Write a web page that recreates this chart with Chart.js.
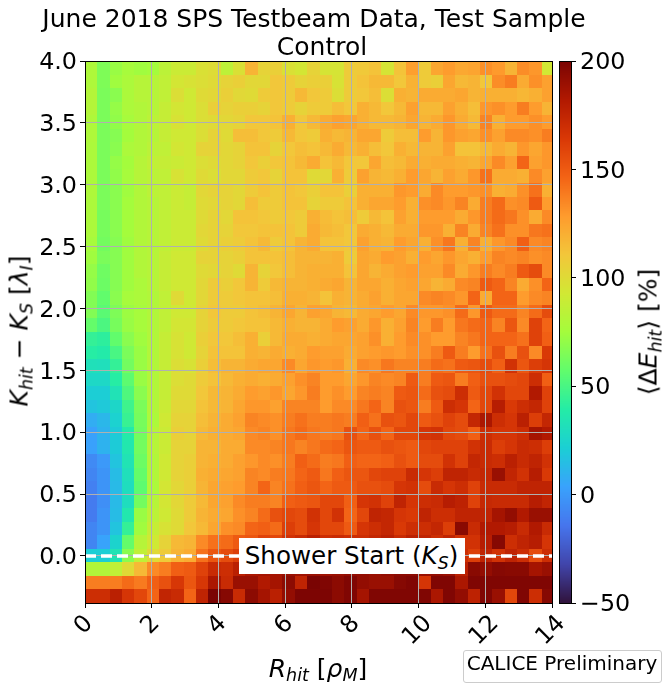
<!DOCTYPE html>
<html>
<head>
<meta charset="utf-8">
<title>June 2018 SPS Testbeam Data</title>
<script src="https://cdn.jsdelivr.net/npm/chart.js@4"></script>
<style>
  html, body { margin: 0; padding: 0; background: #fff; }
  #page { position: relative; width: 668px; height: 689px; overflow: hidden; font-family: "DejaVu Sans", sans-serif; color: #000; }
  canvas { position: absolute; top: 0; }
  .txt { position: absolute; white-space: nowrap; transform: translate(-50%, -50%); line-height: 1; }
  .rot { transform: translate(-50%, -50%) rotate(-90deg); }
  .axis-label { font-size: 25px; }
  .txt sub { font-size: 70%; line-height: 0; vertical-align: -0.28em; }
  #shower-box { position: absolute; left: 239px; top: 538px; width: 226px; height: 36px; background: #fff; }
  #calice-box { position: absolute; left: 463px; top: 650px; width: 197px; height: 31px; background: #fff; border: 1px solid #ccc; border-radius: 3px; }
</style>
</head>
<body>
<div id="page">
  <canvas id="heatmap" width="668" height="689" style="left:0"></canvas>
  <canvas id="colorbar" width="116" height="689" style="left:552px"></canvas>
  <div class="txt" style="left:314px;top:18px;font-size:25px">June 2018 SPS Testbeam Data, Test Sample</div>
  <div class="txt" style="left:322px;top:46px;font-size:25px">Control</div>
  <div id="shower-box"></div>
  <div class="txt" style="left:351.5px;top:556px;font-size:24.6px">Shower Start (<i>K<sub>S</sub></i>)</div>
  <div class="txt axis-label" style="left:318px;top:668px"><i>R<sub>hit</sub></i> [<i>ρ<sub>M</sub></i>]</div>
  <div class="txt axis-label rot" style="left:19px;top:331px"><i>K<sub>hit</sub></i> − <i>K<sub>S</sub></i> [<i>λ<sub>I</sub></i>]</div>
  <div class="txt axis-label rot" style="left:648px;top:332px">⟨Δ<i>E<sub>hit</sub></i>⟩ [%]</div>
  <div id="calice-box"></div>
  <div class="txt" style="left:562px;top:663px;font-size:20px">CALICE Preliminary</div>
</div>
<script>
// ===== DATA =====
const xTicks = [0, 2, 4, 6, 8, 10, 12, 14];
const yTicks = [0, 0.5, 1, 1.5, 2, 2.5, 3, 3.5, 4];
const cbarTicks = [-50, 0, 50, 100, 150, 200];
const xRange = [0, 14];
const yRange = [-0.38, 4];
const cbarRange = [-50, 200];
const xBinWidth = 0.37;
const yBinHeight = 0.1095;
const showerStartX = [0, 14];
const showerStartY = [0, 0];

// mean delta E [%] per cell, left to right, top row first
const row00 = [79,65,72,76,74,75,84,90,90,97,99,85,97,118,104,106,97,94,104, 95,95,108,109,112,95,112,127,108,124,128,123,125,132,129,118,133,130,93];
const row01 = [79,65,74,78,82,82,86,94,96,98,100,104,106,102,102,110,108,104,106, 106,96,108,112,116,116,110,119,108,106,124,116,118,110,133,138,122,132,126];
const row02 = [81,64,68,78,82,82,86,98,92,100,102,106,101,100,108,110,108,116,110, 108,98,108,110,114,98,120,118,122,122,122,124,118,120,120,120,117,120,126];
const row03 = [81,64,71,78,80,82,88,94,92,98,106,104,106,106,104,110,108,104,108, 108,114,110,120,116,110,116,126,116,116,126,120,114,130,132,128,138,128,118];
const row04 = [79,64,70,76,80,84,88,96,92,98,100,102,104,110,110,112,120,110,116, 122,126,124,120,116,116,118,124,118,122,130,122,116,136,120,128,128,132,128];
const row05 = [79,64,67,75,80,82,88,92,92,98,104,100,114,114,110,108,116,110,108, 120,116,118,124,124,108,114,114,128,118,130,126,124,132,126,134,134,132,138];
const row06 = [78,64,68,78,80,84,86,94,92,104,104,102,104,112,112,104,110,114,112, 116,122,116,120,114,110,120,116,118,118,126,112,112,116,122,118,130,124,130];
const row07 = [78,64,71,75,82,86,88,90,92,98,100,102,104,110,106,110,112,116,122, 112,116,110,110,124,114,116,122,120,122,122,120,118,124,134,126,146,126,130];
const row08 = [78,64,70,76,82,84,86,96,92,100,98,102,102,108,110,104,112,112,100, 102,120,108,126,118,116,120,128,124,118,126,122,130,142,122,122,120,134,126];
const row09 = [79,64,68,74,80,84,86,90,88,102,104,104,102,108,112,108,112,110,106, 112,112,106,120,120,120,130,128,122,134,128,128,130,132,120,122,132,142,120];
const row10 = [78,64,68,75,80,82,86,90,88,100,102,104,102,114,108,108,112,112,104, 108,108,112,120,124,124,128,120,132,134,130,136,122,138,144,132,134,150,128];
const row11 = [78,63,68,75,80,82,86,90,90,100,104,102,112,112,110,108,110,108,120, 115,112,114,108,116,112,126,120,128,128,128,122,130,138,144,140,132,122,134];
const row12 = [78,63,68,75,80,82,86,90,90,102,104,104,110,110,112,112,112,108,122, 116,114,110,122,120,116,122,122,130,130,120,136,122,136,142,132,132,140,142];
const row13 = [76,62,67,74,80,82,86,90,90,100,104,106,108,112,116,108,112,118,122, 112,112,110,126,120,118,128,124,120,132,140,120,136,120,130,134,148,134,136];
const row14 = [74,64,67,74,80,82,88,92,92,104,104,104,106,112,112,112,114,118,118, 118,120,108,124,122,128,126,120,128,124,130,124,120,128,136,134,136,132,134];
const row15 = [71,61,67,74,80,82,88,92,92,100,102,104,100,118,104,110,114,118,120, 120,120,112,124,118,122,126,128,126,126,134,122,130,138,134,138,150,156,134];
const row16 = [70,60,67,74,78,82,88,92,92,102,108,106,110,118,108,116,118,118,120, 122,124,118,124,124,120,124,126,124,118,122,134,136,150,146,136,122,132,146];
const row17 = [66,57,68,76,78,80,86,100,92,102,108,108,110,112,112,114,120,120,118, 112,120,118,122,126,120,124,124,134,136,134,130,146,122,146,146,128,134,136];
const row18 = [66,55,65,73,76,80,86,92,92,104,110,108,108,112,114,118,124,118,126, 124,118,116,122,124,128,124,134,130,130,132,144,130,150,144,144,136,144,156];
const row19 = [58,51,63,72,76,80,86,94,94,104,108,108,110,112,112,116,120,118,118, 122,128,126,122,130,120,126,136,128,138,128,140,144,146,136,152,134,160,146];
const row20 = [44,42,57,68,74,80,88,96,92,106,110,110,114,120,106,116,122,122,120, 122,124,124,126,132,120,128,134,132,128,128,136,140,146,146,146,142,160,148];
const row21 = [40,38,50,64,72,80,88,96,92,104,112,112,112,120,118,122,120,122,128, 126,126,122,126,128,130,128,132,132,138,150,138,128,142,154,138,154,134,164];
const row22 = [32,31,44,62,72,80,88,98,96,106,114,118,118,122,124,124,134,124,130, 128,130,120,134,132,140,136,136,138,144,142,150,152,156,148,168,152,162,166];
const row23 = [27,27,40,56,72,80,88,98,100,108,112,116,120,122,120,122,126,132,136, 128,128,124,130,136,134,136,150,138,150,152,138,148,154,154,156,158,170,148];
const row24 = [21,21,33,52,68,80,88,100,100,110,116,118,122,128,126,130,124,130,138, 128,132,128,136,138,136,150,152,144,154,156,170,150,158,168,158,158,182,160];
const row25 = [17,19,26,47,64,80,90,102,102,112,116,118,124,130,130,126,136,136,136, 128,134,134,140,146,136,154,152,138,150,170,166,146,158,180,164,170,174,160];
const row26 = [8,12,23,45,63,78,92,104,104,114,118,122,126,136,134,132,138,142,138, 138,140,138,148,142,154,152,158,150,154,160,156,174,184,170,166,178,162,174];
const row27 = [3,10,20,38,62,82,90,106,104,116,120,122,124,134,136,132,140,144,140, 138,140,154,146,154,146,158,158,166,168,158,156,148,170,166,166,170,186,182];
const row28 = [3,10,20,36,62,82,90,104,104,118,118,122,122,134,134,136,140,136,140, 144,146,152,150,150,154,152,150,158,160,160,160,168,172,162,166,172,170,162];
const row29 = [-6,0,17,34,60,80,92,104,106,118,120,122,126,130,134,132,138,148,144, 138,140,148,146,146,148,154,150,156,156,168,160,174,172,170,178,172,176,168];
const row30 = [-8,-2,14,31,58,80,92,104,106,120,122,124,126,136,134,138,140,146,150, 140,148,152,152,158,160,160,172,166,162,176,176,172,174,190,175,168,180,164];
const row31 = [-10,-2,13,30,56,78,94,102,106,118,124,126,128,136,146,136,142,148,152, 146,150,150,154,154,156,166,168,156,172,166,170,160,172,172,172,176,176,176];
const row32 = [-12,-4,13,30,62,82,94,102,108,116,124,126,134,138,138,136,148,150,152, 158,158,148,166,168,160,176,166,170,172,180,177,160,173,172,172,172,180,175];
const row33 = [-12,-2,14,36,72,84,92,100,108,118,122,124,132,136,144,154,158,156,168, 158,168,146,158,176,174,166,164,176,170,170,176,176,176,186,192,182,190,190];
const row34 = [-8,-2,17,44,74,88,96,100,110,116,124,132,134,146,148,144,162,156,166, 158,158,150,166,170,174,164,170,170,174,162,195,172,182,182,180,172,182,172];
const row35 = [-8,4,24,58,82,92,104,116,118,134,142,144,150,152,160,158,168,172,178, 170,172,170,170,174,178,172,178,176,170,176,168,168,180,196,170,176,180,166];
const row36 = [21,21,34,68,86,100,108,118,122,142,152,156,162,168,172,170,176,178,182, 176,180,178,182,186,184,186,188,186,184,186,170,162,176,168,176,170,156,170];
const row37 = [80,80,86,100,116,134,138,148,150,160,172,170,178,184,186,186,190,188,190, 188,190,192,192,190,192,194,194,190,192,190,178,195,192,196,195,195,186,190];
const row38 = [138,138,138,144,139,148,154,165,152,165,184,172,190,190,182,186,194,176,200, 198,194,198,192,190,190,196,198,166,198,198,184,198,198,198,198,198,198,198];
const row39 = [170,170,178,166,158,146,175,172,146,176,200,196,172,194,186,178,192,199,199, 199,194,198,186,198,198,198,198,198,184,198,192,177,198,190,158,198,170,196];

const cellRows = [
  row00, row01, row02, row03, row04, row05, row06, row07, row08, row09,
  row10, row11, row12, row13, row14, row15, row16, row17, row18, row19,
  row20, row21, row22, row23, row24, row25, row26, row27, row28, row29,
  row30, row31, row32, row33, row34, row35, row36, row37, row38, row39
];

const FONT = '"DejaVu Sans", sans-serif';
const TICK_FONT = { family: FONT, size: 23.8 };

// turbo colormap samples, evenly spaced over the colorbar range
const TURBO = [
  [48,18,59], [65,69,171], [70,117,237], [57,162,252], [27,207,212],
  [36,236,166], [97,252,108], [164,252,60], [209,232,52], [243,198,58],
  [254,155,45], [243,99,21], [217,56,6], [177,25,1], [122,4,3]
];
function turbo(t) {
  const p = Math.min(1, Math.max(0, t)) * (TURBO.length - 1);
  const i = Math.min(TURBO.length - 2, Math.floor(p));
  const f = p - i;
  const c = TURBO[i].map((a, k) => Math.round(a + (TURBO[i + 1][k] - a) * f));
  return `rgb(${c[0]},${c[1]},${c[2]})`;
}
const valueColor = v => turbo((v - cbarRange[0]) / (cbarRange[1] - cbarRange[0]));

// cells, grid goes on top of them
const heatmapPlugin = {
  id: 'heatmapCells',
  beforeDraw(chart) {
    const { ctx, chartArea: a, scales: { x, y } } = chart;
    ctx.save();
    ctx.beginPath();
    ctx.rect(a.left, a.top, a.right - a.left, a.bottom - a.top);
    ctx.clip();
    cellRows.forEach((row, r) => {
      const top = Math.round(y.getPixelForValue(yRange[1] - r * yBinHeight));
      const bottom = Math.round(y.getPixelForValue(yRange[1] - (r + 1) * yBinHeight));
      row.forEach((v, c) => {
        const left = Math.round(x.getPixelForValue(c * xBinWidth));
        const right = Math.round(x.getPixelForValue((c + 1) * xBinWidth));
        ctx.fillStyle = valueColor(v);
        ctx.fillRect(left, top, right - left, bottom - top);
      });
    });
    ctx.restore();
  },
  afterDraw(chart) {
    const { ctx, chartArea: a, scales: { x } } = chart;
    ctx.save();
    ctx.strokeStyle = '#000';
    ctx.lineWidth = 1;
    ctx.strokeRect(Math.round(a.left) + 0.5, Math.round(a.top) + 0.5, Math.round(a.right - a.left), Math.round(a.bottom - a.top));
    // matplotlib style rotated x labels, centred under the tick
    ctx.fillStyle = '#000';
    ctx.font = `23.8px ${FONT}`;
    ctx.textAlign = 'center';
    ctx.textBaseline = 'middle';
    x.ticks.forEach(t => {
      const label = String(t.value);
      const w = ctx.measureText(label).width;
      const cy = 613.5 + (w + 18) * 0.707 / 2;
      ctx.save();
      ctx.translate(x.getPixelForValue(t.value) - 1, cy);
      ctx.rotate(-Math.PI / 4);
      ctx.fillText(label, 0, 0);
      ctx.restore();
    });
    ctx.restore();
  }
};

const colorbarPlugin = {
  id: 'colorbarFill',
  beforeDraw(chart) {
    const { ctx, chartArea: a, scales: { y } } = chart;
    const left = Math.round(a.left), width = Math.round(a.right - a.left);
    ctx.save();
    for (let p = Math.round(a.top); p < Math.round(a.bottom); p++) {
      ctx.fillStyle = valueColor(y.getValueForPixel(p + 0.5));
      ctx.fillRect(left, p, width, 1);
    }
    ctx.strokeStyle = '#000';
    ctx.lineWidth = 1;
    ctx.strokeRect(left + 0.5, Math.round(a.top) + 0.5, width, Math.round(a.bottom - a.top));
    ctx.restore();
  }
};

new Chart(document.getElementById('heatmap'), {
  type: 'scatter',
  data: {
    datasets: [{
      type: 'line',
      data: showerStartX.map((x, i) => ({ x, y: showerStartY[i] })),
      borderColor: '#fff',
      borderWidth: 3.5,
      borderDash: [11, 5],
      pointRadius: 0,
      fill: false,
      clip: false
    }]
  },
  options: {
    responsive: false,
    animation: false,
    events: [],
    layout: { padding: { top: 61, right: 116, left: 0, bottom: 0 } },
    plugins: { legend: { display: false }, tooltip: { enabled: false } },
    scales: {
      x: {
        type: 'linear',
        min: xRange[0], max: xRange[1],
        afterBuildTicks(s) { s.ticks = xTicks.map(value => ({ value })); },
        afterFit(s) { s.height = 86; },
        ticks: { display: false },
        grid: { color: '#b0b0b0', lineWidth: 1, tickColor: '#000', tickLength: 5 },
        border: { color: '#000' }
      },
      y: {
        type: 'linear',
        min: yRange[0], max: yRange[1],
        afterBuildTicks(s) { s.ticks = yTicks.map(value => ({ value })); },
        afterFit(s) { s.width = 85; },
        ticks: { font: TICK_FONT, color: '#000', padding: 3, labelOffset: 2, autoSkip: false, callback: v => v.toFixed(1) },
        grid: { color: '#b0b0b0', lineWidth: 1, tickColor: '#000', tickLength: 5 },
        border: { color: '#000' }
      }
    }
  },
  plugins: [heatmapPlugin]
});

new Chart(document.getElementById('colorbar'), {
  type: 'scatter',
  data: { datasets: [] },
  options: {
    responsive: false,
    animation: false,
    events: [],
    layout: { padding: { top: 61, left: 7, right: 0, bottom: 0 } },
    plugins: { legend: { display: false }, tooltip: { enabled: false } },
    scales: {
      x: { display: false, afterFit(s) { s.height = 86; } },
      y: {
        type: 'linear',
        position: 'right',
        min: cbarRange[0], max: cbarRange[1],
        afterBuildTicks(s) { s.ticks = cbarTicks.map(value => ({ value })); },
        afterFit(s) { s.width = 97; },
        ticks: {
          font: TICK_FONT, color: '#000', padding: 4, labelOffset: 2, autoSkip: false,
          callback: v => String(v).replace('-', '\u2212')
        },
        grid: { drawOnChartArea: false, tickColor: '#000', tickLength: 5 },
        border: { display: false }
      }
    }
  },
  plugins: [colorbarPlugin]
});
</script>
</body>
</html>
